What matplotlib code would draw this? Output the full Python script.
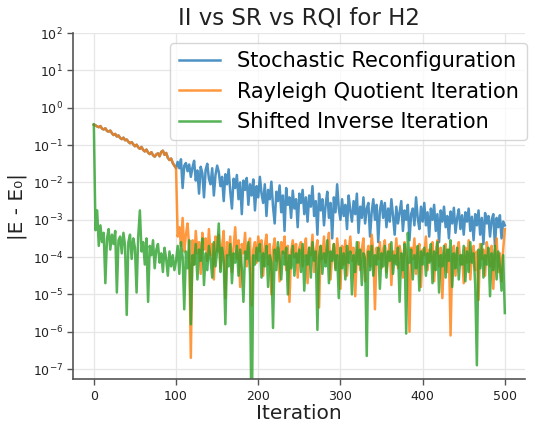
import matplotlib
matplotlib.use("Agg")
import matplotlib.pyplot as plt
import matplotlib.ticker as mticker
import numpy as np

# log10 |E - E0|, one value every 2 iterations (0..500)
sr_log = [
    -0.45, -0.47, -0.50, -0.52, -0.49, -0.56, -0.58, -0.55, -0.62, -0.64, -0.61, -0.68, -0.73, -0.70, -0.77, -0.74, -0.81, -0.84, -0.80, -0.87, -0.85, -0.91, -0.95, -0.92, -0.98,
    -1.03, -0.99, -1.06, -1.10, -1.05, -1.13, -1.17, -1.12, -1.20, -1.24, -1.19, -1.27, -1.31, -1.25, -1.22, -1.30, -1.18, -1.15, -1.26, -1.21, -1.34, -1.40, -1.36, -1.48, -1.55,
    -1.62,
    -1.45, -1.62, -1.38, -2.15, -1.55, -1.48, -1.70, -1.52, -1.85, -1.60, -1.42, -1.95, -1.68, -2.30, -1.58, -1.75, -2.40, -1.66, -1.50, -1.90, -2.05, -1.62, -2.35, -1.80, -1.55,
    -1.72, -2.10, -1.85, -2.50, -1.78, -2.05, -1.65, -2.25, -2.70, -1.90, -2.15, -1.80, -2.45, -2.00, -2.85, -1.95, -2.20, -1.88, -2.60, -2.05, -2.35, -1.92, -2.75, -2.10, -2.40,
    -1.85, -2.30, -2.55, -2.05, -2.90, -2.20, -2.45, -1.98, -2.65, -3.10, -2.25, -2.50, -2.08, -2.80, -2.35, -3.30, -2.15, -2.60, -2.40, -2.95, -2.22, -2.70, -2.45, -3.20, -2.30,
    -2.55, -2.20, -2.85, -2.40, -3.05, -2.35, -2.65, -2.10, -2.90, -2.50, -3.40, -2.30, -2.75, -2.45, -3.15, -2.60, -2.25, -2.95, -2.55, -3.50, -2.40, -2.80, -2.05, -2.70, -3.00,
    -2.45, -2.90, -2.60, -3.25, -2.35, -2.75, -3.05, -2.50, -2.85, -2.30, -3.35, -2.65, -2.95, -2.40, -3.10, -2.70, -2.55, -3.45, -2.80, -2.45, -3.00, -2.60, -3.60, -2.75, -2.50,
    -2.95, -2.55, -3.20, -2.70, -3.05, -2.45, -2.90, -3.40, -2.65, -3.10, -2.80, -2.50, -3.30, -2.75, -3.00, -2.60, -3.55, -2.85, -2.70, -3.15, -2.40, -2.95, -3.25, -2.65, -3.05,
    -2.55, -3.15, -2.80, -3.45, -2.70, -3.00, -2.60, -3.30, -2.85, -3.60, -2.75, -3.05, -2.65, -3.20, -2.90, -3.50, -2.78, -3.10, -2.68, -3.35, -2.95, -2.72, -3.25, -2.88, -3.40,
    -2.80, -3.05, -2.70, -3.30, -2.92, -3.55, -2.85, -3.15, -2.75, -3.40, -2.95, -3.65, -2.82, -3.10, -2.90, -3.45, -3.00, -2.85, -3.70, -2.95, -3.20, -2.88, -3.50, -3.05, -3.15,
]

# RQI follows SR for the first 100 iterations
rqi_tail_log = [
    -3.45, -3.20, -3.70, -2.95, -3.85, -3.40, -3.10, -3.75, -6.70, -3.55, -4.20, -3.30, -3.90, -3.60, -4.45, -3.35, -3.80, -3.50, -4.10, -3.25, -3.95, -3.65, -4.60, -3.45, -3.85,
    -3.40, -4.30, -3.70, -3.30, -5.10, -3.60, -3.95, -3.45, -4.40, -3.75, -3.20, -4.05, -3.55, -4.80, -3.65, -3.90, -3.35, -4.25, -3.70, -3.50, -5.30, -3.80, -3.60, -4.15, -3.45,
    -3.85, -3.55, -4.50, -3.70, -3.40, -4.20, -3.65, -5.00, -3.80, -3.50, -4.10, -3.75, -4.65, -3.60, -3.90, -3.45, -4.35, -3.70, -5.20, -3.85, -3.55, -4.00, -3.65, -4.55, -3.75,
    -3.60, -4.25, -3.80, -3.50, -4.70, -3.75, -3.95, -3.40, -4.40, -3.85, -3.55, -5.35, -3.70, -4.05, -3.45, -4.15, -3.80, -3.35, -4.60, -3.90, -3.65, -4.30, -3.50, -3.95, -4.85,
    -3.70, -4.20, -3.55, -4.50, -3.85, -3.45, -4.10, -3.75, -5.05, -3.90, -3.60, -4.35, -3.80, -3.50, -4.65, -3.95, -3.70, -4.25, -3.40, -3.85, -5.40, -3.75, -4.05, -3.60, -4.30,
    -3.80, -3.55, -4.40, -3.90, -3.65, -4.75, -3.85, -4.15, -3.50, -4.30, -3.70, -3.95, -4.55, -3.60, -3.85, -4.20, -6.00, -3.75, -4.05, -3.50, -4.45, -3.90, -3.65, -4.80, -3.80,
    -3.95, -3.45, -4.35, -3.80, -4.10, -3.60, -4.65, -3.85, -3.55, -4.25, -3.75, -5.10, -3.90, -3.65, -4.40, -3.80, -6.10, -4.00, -3.70, -4.50, -3.85, -3.60, -4.20, -3.95, -4.70,
    -3.75, -4.15, -3.55, -4.60, -3.90, -3.70, -4.35, -3.85, -5.15, -3.65, -4.05, -3.80, -4.50, -3.60, -3.95, -4.25, -3.70, -4.85, -3.85, -3.50, -4.40, -3.90, -4.65, -3.80, -3.25,
]
rqi_log = sr_log[:51] + rqi_tail_log

ii_log = [
    -0.45, -3.28, -2.75, -3.70, -3.15, -3.60, -3.35, -4.70, -3.50, -3.25, -3.80, -3.40, -3.65, -3.30, -4.95, -3.55, -3.45, -3.90, -3.35, -3.70, -5.55, -3.60, -3.40, -4.05, -3.50,
    -3.75, -4.95, -3.45, -2.75, -3.85, -3.60, -4.20, -3.50, -5.20, -3.70, -3.95, -3.55, -4.30, -3.80, -3.65, -4.15, -3.90, -4.40, -3.75, -4.05, -4.50, -3.85, -4.25, -3.95, -4.35,
    -4.10, -3.70, -4.45, -3.60, -4.00, -5.40, -3.85, -4.30, -3.55, -5.80, -3.95, -4.20, -3.65, -4.60, -3.80, -4.10, -3.50, -4.75, -3.90, -4.35, -3.70, -4.05, -4.55, -3.60, -4.25,
    -3.85, -3.10, -4.40, -3.75, -4.10, -5.80, -3.95, -4.25, -3.65, -4.70, -3.90, -4.15, -3.70, -4.50, -3.80, -4.30, -5.20, -3.85, -4.05, -3.60, -4.45, -9.00, -3.95, -4.20, -3.75,
    -4.10, -3.65, -4.55, -3.90, -4.25, -3.70, -4.80, -3.95, -4.15, -5.90, -3.80, -4.35, -3.60, -4.05, -4.60, -3.85, -4.20, -3.75, -5.00, -3.95, -4.30, -3.70, -4.50, -3.90, -4.15,
    -3.80, -4.40, -3.65, -4.90, -3.95, -4.20, -3.75, -4.55, -3.60, -4.10, -3.85, -5.95, -4.00, -3.70, -4.45, -3.90, -4.25, -3.55, -4.70, -3.85, -4.10, -3.65, -4.35, -3.95, -5.10,
    -3.75, -4.30, -3.90, -4.60, -3.70, -4.15, -3.85, -5.00, -3.95, -4.40, -3.60, -4.20, -3.80, -4.75, -3.90, -4.05, -6.65, -3.85, -4.35, -3.70, -4.50, -3.95, -4.20, -3.75, -4.85,
    -3.90, -4.25, -3.70, -4.55, -3.85, -4.10, -3.60, -4.45, -3.95, -4.20, -3.75, -5.20, -3.90, -4.35, -3.65, -6.05, -3.35, -4.15, -3.80, -4.60, -3.95, -4.30, -3.70, -4.90, -3.85,
    -4.20, -3.75, -4.50, -3.90, -4.15, -3.65, -4.70, -3.85, -4.35, -3.60, -4.95, -3.95, -4.25, -3.70, -4.55, -3.80, -4.10, -3.55, -4.80, -3.90, -4.30, -3.75, -4.60, -3.95, -4.20,
    -3.70, -4.65, -3.85, -4.40, -3.60, -4.15, -3.90, -4.75, -6.90, -3.80, -4.30, -3.65, -4.55, -3.95, -4.20, -3.75, -5.05, -3.90, -4.35, -3.70, -4.60, -3.85, -4.25, -4.90, -3.95, -5.50,
]

labels = ["Stochastic Reconfiguration", "Rayleigh Quotient Iteration", "Shifted Inverse Iteration"]
colors = ["tab:blue", "tab:orange", "tab:green"]

assert len(sr_log) == len(rqi_log) == len(ii_log) == 251


def main():
    iters = np.arange(len(sr_log)) * 2
    series = [sr_log, rqi_log, ii_log]

    fig = plt.figure(figsize=(5.35, 4.25), dpi=100)
    ax = fig.add_axes([0.137, 0.108, 0.845, 0.814])

    for vals, lab, col in zip(series, labels, colors):
        ax.plot(iters, np.power(10.0, vals), color=col, alpha=0.8, lw=1.8, label=lab)

    ax.set_yscale("log")
    ax.set_ylim(10 ** -7.27, 1e2)
    ax.yaxis.set_major_locator(mticker.LogLocator(base=10, numticks=20))
    ax.yaxis.set_minor_locator(mticker.NullLocator())
    ax.set_xticks([0, 100, 200, 300, 400, 500])

    ax.grid(True, color="#e6e6e6", lw=0.9)
    ax.set_axisbelow(True)
    for s in ["top", "right"]:
        ax.spines[s].set_visible(False)
    for s in ["left", "bottom"]:
        ax.spines[s].set_color("#555555")
        ax.spines[s].set_linewidth(1.2)
    ax.tick_params(colors="#555555", labelcolor="#222222", labelsize=9, length=4, width=1)

    ax.set_title("II vs SR vs RQI for H2", fontsize=16.5, color="#222222")
    ax.set_xlabel("Iteration", fontsize=14.5, color="#222222", labelpad=1)
    ax.set_ylabel("|E - E₀|", fontsize=14.5, color="#222222")
    ax.legend(loc="upper right", fontsize=15, framealpha=0.8, borderaxespad=0,
              bbox_to_anchor=(1.004, 0.972))

    plt.savefig("out.png", dpi=100)


if __name__ == "__main__":
    main()
